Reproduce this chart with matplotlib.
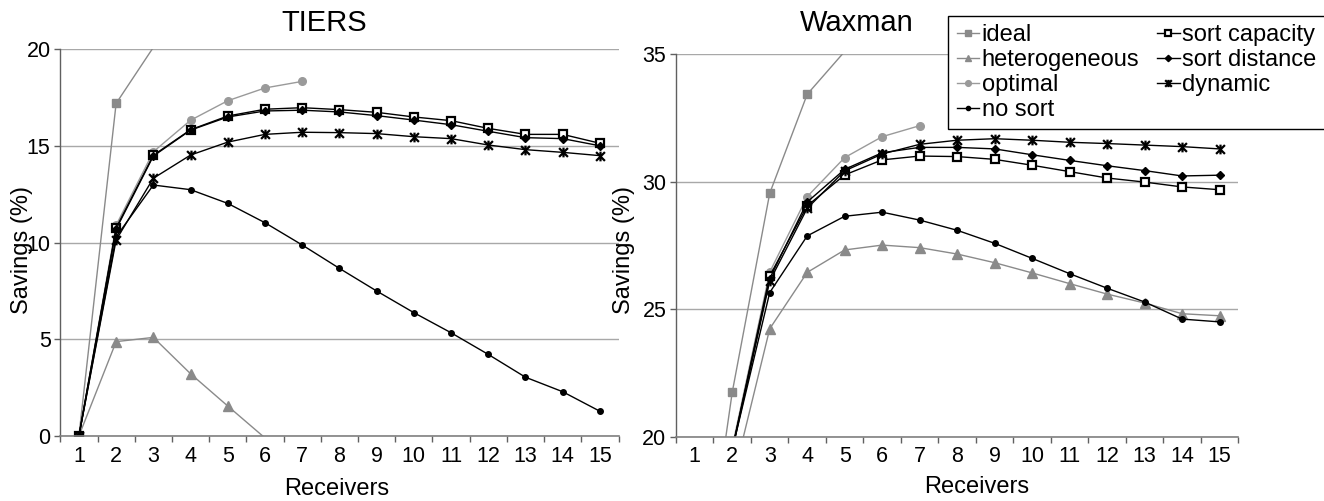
import numpy as np
import matplotlib
matplotlib.use("Agg")
import matplotlib.pyplot as plt
from matplotlib.path import Path

plt.rcParams['font.family'] = ['Liberation Sans', 'DejaVu Sans']

nan = np.nan
receivers = list(range(1, 16))
tick_labels = [str(r) for r in receivers]

labels = ["ideal", "heterogeneous", "optimal", "no sort",
          "sort capacity", "sort distance", "dynamic"]

# TIERS
ideal_t = [0, 17.2, 20.1]
het_t = [0, 4.88, 5.1, 3.22, 1.55, -0.1]
opt_t = [0, 10.9, 14.7, 16.33, 17.34, 18.0, 18.34]
nosort_t = [0, 10.3, 12.98, 12.74, 12.03, 11.03, 9.88, 8.67, 7.5, 6.38, 5.34, 4.22, 3.04, 2.29, 1.28]
cap_t = [0, 10.76, 14.52, 15.84, 16.55, 16.9, 16.98, 16.88, 16.74, 16.5, 16.31, 15.91, 15.6, 15.6, 15.14]
dist_t = [0, 10.7, 14.48, 15.82, 16.5, 16.81, 16.85, 16.76, 16.57, 16.34, 16.1, 15.76, 15.43, 15.38, 15.01]
dyn_t = [0, 10.14, 13.33, 14.53, 15.2, 15.6, 15.71, 15.69, 15.64, 15.48, 15.38, 15.05, 14.81, 14.67, 14.5]

# Waxman
ideal_w = [11.5, 21.74, 29.54, 33.42, 35.1]
het_w = [nan, 18.2, 24.23, 26.44, 27.32, 27.51, 27.41, 27.16, 26.82, 26.42, 26.0, 25.59, 25.24, 24.82, 24.74]
opt_w = [nan, 19.6, 26.45, 29.41, 30.94, 31.76, 32.19]
nosort_w = [nan, 19.5, 25.65, 27.87, 28.64, 28.8, 28.49, 28.09, 27.58, 26.99, 26.39, 25.82, 25.28, 24.61, 24.5]
cap_w = [nan, 19.5, 26.3, 29.05, 30.26, 30.85, 31.0, 30.98, 30.87, 30.64, 30.39, 30.14, 29.98, 29.79, 29.68]
dist_w = [nan, 19.5, 26.2, 29.2, 30.48, 31.13, 31.34, 31.34, 31.28, 31.05, 30.83, 30.62, 30.43, 30.22, 30.25]
dyn_w = [nan, 19.45, 26.1, 28.95, 30.42, 31.08, 31.46, 31.62, 31.68, 31.62, 31.54, 31.49, 31.43, 31.37, 31.28]

# Excel-like star marker (x with vertical bar)
star = Path([(-1, -1), (1, 1), (-1, 1), (1, -1), (0, -1.1), (0, 1.1)],
            [Path.MOVETO, Path.LINETO, Path.MOVETO, Path.LINETO, Path.MOVETO, Path.LINETO])

GRAY = '#8a8a8a'
LGRAY = '#9a9a9a'
styles = [
    dict(color=GRAY, lw=1.0, marker='s', ms=5.5, mfc=GRAY, mec=GRAY),
    dict(color=GRAY, lw=1.0, marker='^', ms=6.5, mfc=GRAY, mec=GRAY),
    dict(color=LGRAY, lw=1.0, marker='o', ms=5.5, mfc=LGRAY, mec=LGRAY),
    dict(color='black', lw=1.0, marker='o', ms=4, mfc='black', mec='black'),
    dict(color='black', lw=1.0, marker='s', ms=5.5, mfc='white', mec='black', mew=1.6),
    dict(color='black', lw=1.0, marker='D', ms=4.3, mfc='black', mec='black'),
    dict(color='black', lw=1.0, marker=star, ms=7, mfc='none', mec='black', mew=1.6),
]

W, H = 1324, 501
fig = plt.figure(figsize=(W / 100, H / 100), dpi=100)

def px_axes(x0, x1, ytop, ybot):
    return fig.add_axes([x0 / W, 1 - ybot / H, (x1 - x0) / W, (ybot - ytop) / H])

ax1 = px_axes(60.3, 618.5, 49.3, 436.0)
ax2 = px_axes(676.0, 1238.3, 54.0, 436.7)

def draw(ax, series, ylim, yticks):
    lines = []
    for vals, st, lab in zip(series, styles, labels):
        x = receivers[:len(vals)]
        v = np.array(vals, dtype=float)
        me = [i for i in range(len(v)) if np.isfinite(v[i]) and ylim[0] <= v[i] <= ylim[1]]
        ln, = ax.plot(x, v, label=lab, markevery=me, clip_on=True, **st)
        lines.append(ln)
    ax.set_xlim(0.5, 15.5)
    ax.set_ylim(*ylim)
    ax.set_xticks(receivers)
    ax.set_xticklabels(tick_labels)
    ax.set_xticks(np.arange(0.5, 16, 1.0), minor=True)
    ax.set_yticks(yticks)
    ax.tick_params(axis='x', which='major', length=0, labelsize=15.5, pad=7)
    ax.tick_params(axis='x', which='minor', length=4, width=1, color='#606060', direction='out')
    ax.tick_params(axis='y', length=4, width=1, color='#606060', labelsize=15.5, pad=3)
    ax.yaxis.grid(True, color='#a8a8a8', lw=1.0)
    ax.set_axisbelow(True)
    for s in ('top', 'right'):
        ax.spines[s].set_visible(False)
    ax.spines['left'].set_color('#606060')
    ax.spines['bottom'].set_color('#808080')
    ax.spines['left'].set_linewidth(1.0)
    ax.spines['bottom'].set_linewidth(1.2)
    return lines

draw(ax1, [ideal_t, het_t, opt_t, nosort_t, cap_t, dist_t, dyn_t], (0, 20), [0, 5, 10, 15, 20])
lines = draw(ax2, [ideal_w, het_w, opt_w, nosort_w, cap_w, dist_w, dyn_w], (20, 35), [20, 25, 30, 35])

def ftext(x, y, s, **kw):
    fig.text(x / W, 1 - y / H, s, ha='center', va='center', **kw)

ftext(324, 23, "TIERS", fontsize=21)
ftext(857, 23, "Waxman", fontsize=21)
ftext(337, 489, "Receivers", fontsize=17)
ftext(977, 487, "Receivers", fontsize=17)
ftext(22, 250, "Savings (%)", fontsize=17, rotation=90)
ftext(624, 250, "Savings (%)", fontsize=17, rotation=90)

leg = fig.legend(handles=lines, labels=labels, ncol=2, loc='upper left',
                 bbox_to_anchor=(948.3 / W, 1 - 16 / H), fontsize=17,
                 frameon=True, fancybox=False, edgecolor='black', framealpha=1,
                 handlelength=0.95, handletextpad=0.12, columnspacing=0.75,
                 labelspacing=0.12, borderpad=0.35, borderaxespad=0)
leg.get_frame().set_linewidth(1.0)
for h in leg.legend_handles:
    h.set_markersize(h.get_markersize() * 0.75)

fig.savefig("out.png", dpi=100)
